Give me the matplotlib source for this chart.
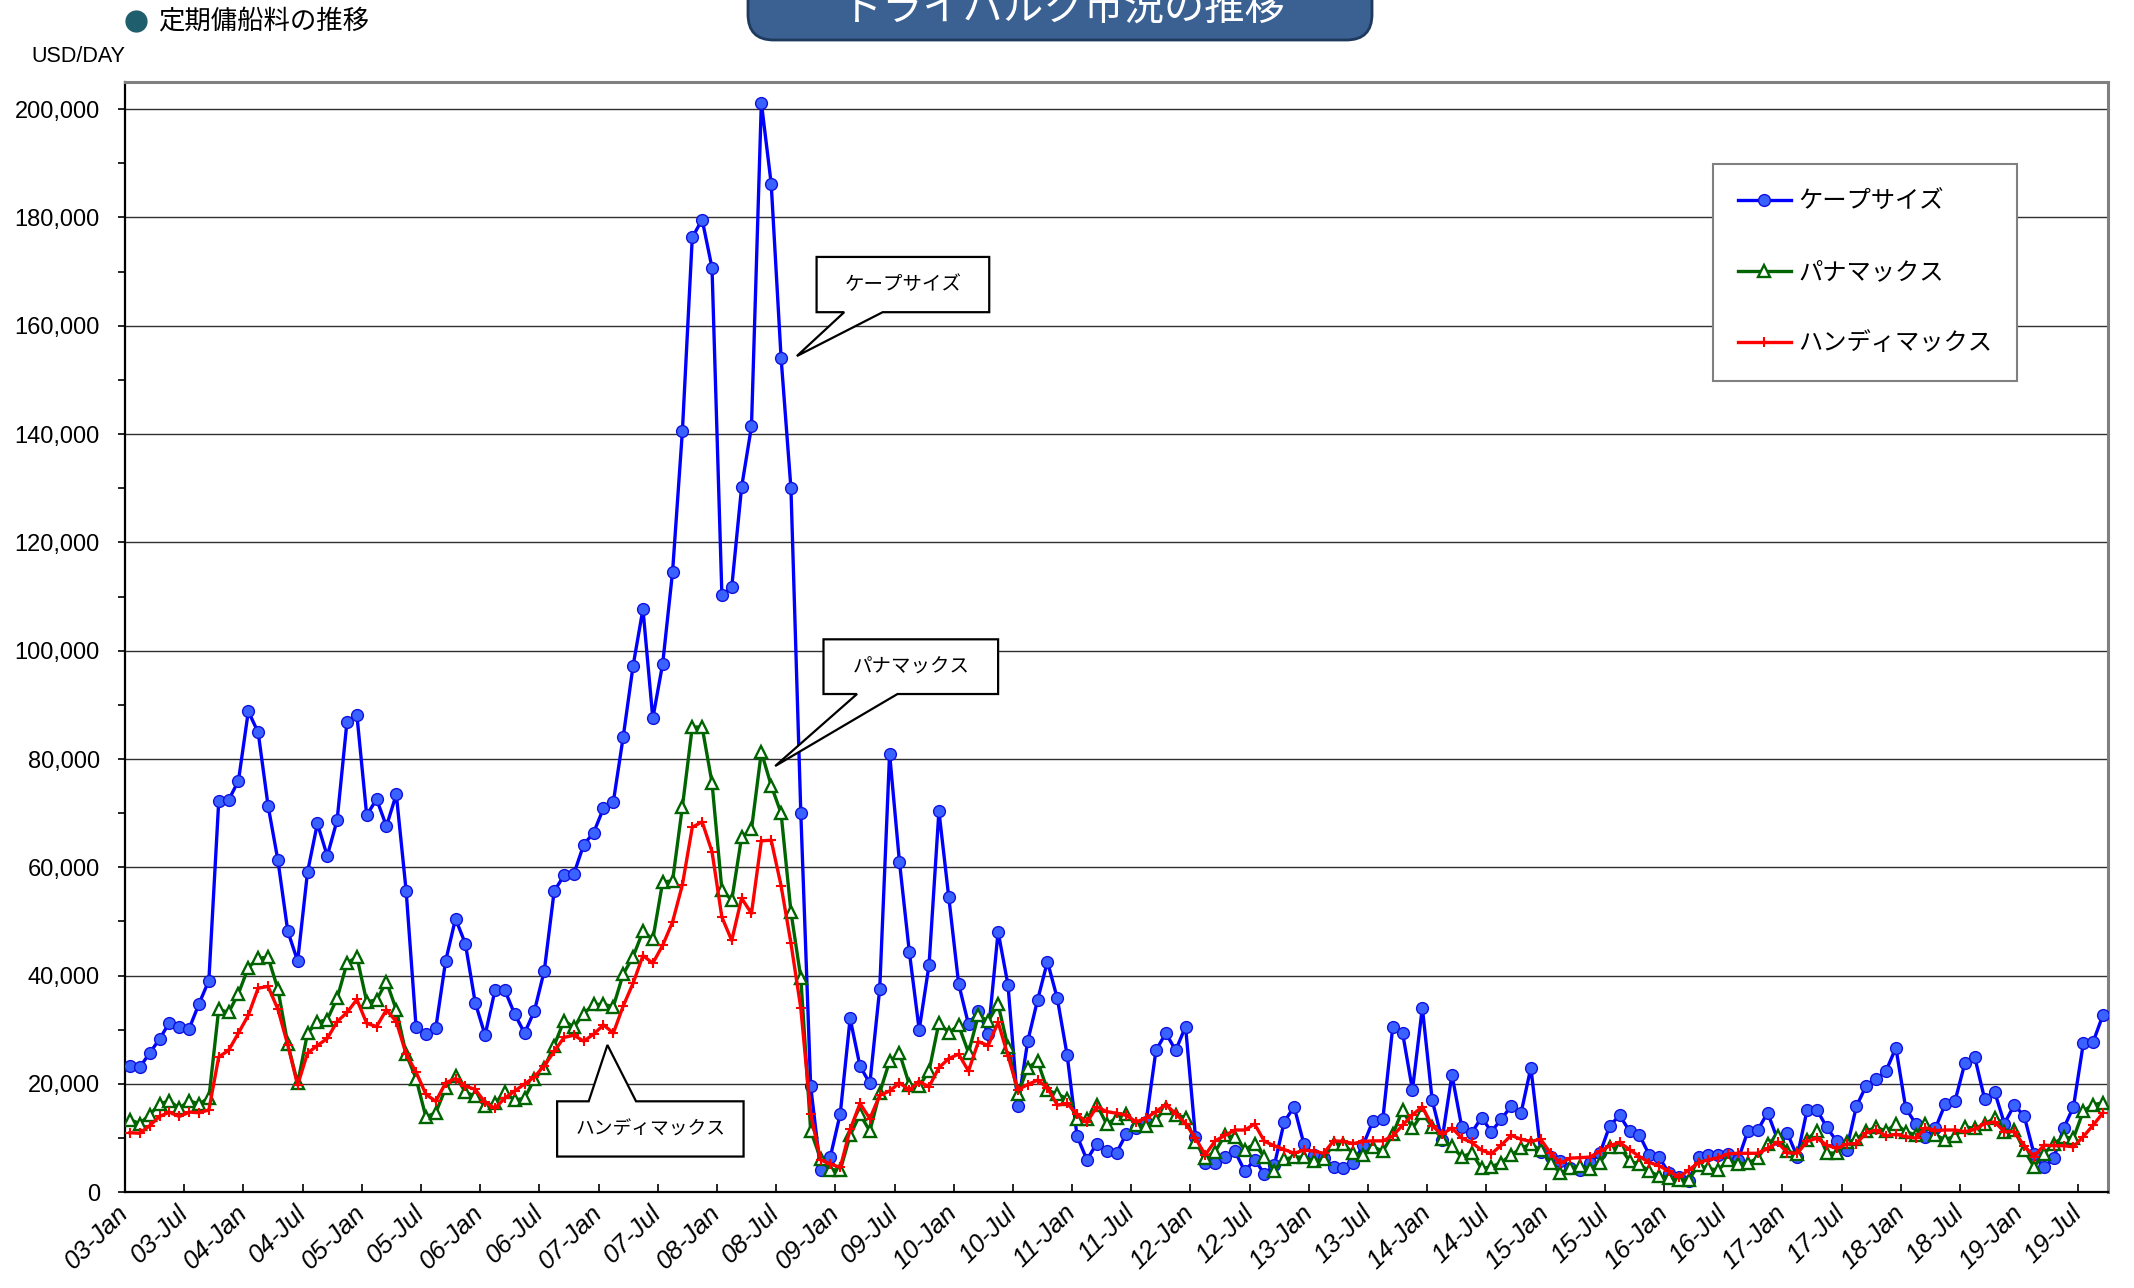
import matplotlib
matplotlib.use("Agg")
import matplotlib.pyplot as plt
from matplotlib.patches import Polygon, FancyBboxPatch
from matplotlib.lines import Line2D
from matplotlib.ticker import MultipleLocator, FuncFormatter
import matplotlib.transforms as mtransforms
import numpy as np

plt.rcParams['font.family'] = ['Liberation Sans', 'Noto Sans CJK JP', 'DejaVu Sans']
JP = ['Noto Sans CJK JP', 'DejaVu Sans']

# monthly time-charter rates, USD/day (thousands), 2003-01 .. 2019-09
cape = [
    23.3, 23.1, 25.7, 28.3, 31.3, 30.6, 30.2, 34.8, 39.1, 72.2, 72.4, 76.0,    # 2003
    88.8, 84.9, 71.4, 61.3, 48.2, 42.7, 59.1, 68.1, 62.1, 68.7, 86.9, 88.2,    # 2004
    69.6, 72.6, 67.6, 73.5, 55.6, 30.6, 29.2, 30.3, 42.7, 50.5, 45.9, 35.0,    # 2005
    29.0, 37.3, 37.3, 32.9, 29.4, 33.5, 40.9, 55.6, 58.5, 58.8, 64.2, 66.4,    # 2006
    70.9, 72.1, 84.1, 97.2, 107.7, 87.5, 97.6, 114.5, 140.6, 176.3, 179.6, 170.7,  # 2007
    110.3, 111.7, 130.2, 141.4, 201.2, 186.2, 154.1, 130.0, 70.1, 19.6, 4.1, 6.6,  # 2008
    14.5, 32.1, 23.3, 20.1, 37.6, 81.0, 61.0, 44.4, 30.0, 42.0, 70.4, 54.5,    # 2009
    38.5, 31.0, 33.4, 29.3, 48.1, 38.3, 15.9, 27.9, 35.5, 42.6, 35.8, 25.3,    # 2010
    10.4, 6.0, 9.0, 7.7, 7.3, 10.8, 11.9, 13.0, 26.2, 29.4, 26.2, 30.6,        # 2011
    10.3, 5.4, 5.4, 6.5, 7.6, 3.9, 6.0, 3.4, 5.0, 13.0, 15.8, 8.9,             # 2012
    6.9, 6.3, 4.7, 4.4, 5.4, 8.7, 13.2, 13.6, 30.5, 29.4, 18.9, 34.1,          # 2013
    17.0, 9.7, 21.7, 12.0, 11.0, 13.8, 11.2, 13.5, 15.9, 14.6, 23.0, 7.5,      # 2014
    6.6, 5.8, 4.4, 4.2, 5.5, 7.2, 12.3, 14.2, 11.3, 10.6, 6.9, 6.5,            # 2015
    3.5, 2.9, 2.1, 6.6, 6.9, 6.9, 7.1, 6.0, 11.3, 11.5, 14.7, 9.8,             # 2016
    10.9, 6.6, 15.2, 15.2, 12.0, 9.4, 7.9, 15.9, 19.7, 20.9, 22.4, 26.7,       # 2017
    15.5, 12.7, 10.3, 11.8, 16.3, 16.9, 23.9, 24.9, 17.2, 18.6, 12.7, 16.1,    # 2018
    14.1, 7.1, 4.6, 6.3, 11.8, 15.8, 27.5, 27.8, 32.8,                         # 2019
]
panamax = [
    13.4, 12.7, 14.3, 16.3, 16.9, 15.5, 16.9, 16.3, 17.4, 33.8, 33.2, 36.7,
    41.5, 43.2, 43.4, 37.5, 27.4, 20.1, 29.4, 31.4, 31.9, 35.8, 42.3, 43.5,
    35.2, 35.5, 38.9, 33.7, 25.5, 21.0, 13.9, 14.7, 19.2, 21.5, 18.5, 17.7,
    16.0, 16.4, 18.5, 17.0, 17.4, 20.9, 23.0, 27.1, 31.7, 30.5, 33.0, 34.7,
    34.7, 34.3, 40.3, 43.5, 48.2, 46.7, 57.3, 57.5, 71.2, 85.9, 85.9, 75.6,
    55.9, 53.9, 65.6, 67.0, 81.3, 75.1, 70.0, 51.8, 39.6, 11.4, 6.2, 4.2,
    4.1, 10.5, 14.4, 11.3, 18.4, 24.2, 25.7, 19.9, 19.6, 22.4, 31.3, 29.5,
    30.8, 25.8, 32.7, 31.6, 34.7, 26.8, 18.1, 23.0, 24.2, 18.9, 18.1, 17.3,
    13.6, 13.5, 16.2, 12.6, 13.7, 14.5, 12.4, 12.3, 13.4, 15.6, 14.3, 13.8,
    9.2, 6.4, 7.5, 10.6, 10.2, 7.9, 8.9, 6.5, 4.0, 6.1, 6.5, 6.5,
    5.7, 6.1, 9.0, 8.9, 7.2, 6.8, 8.4, 7.6, 10.7, 15.2, 11.8, 14.6,
    12.1, 9.9, 8.5, 6.5, 7.3, 4.4, 4.7, 5.5, 6.9, 8.1, 8.9, 7.8,
    5.4, 3.6, 4.4, 4.9, 4.3, 5.4, 8.4, 8.4, 5.8, 5.2, 3.9, 3.0,
    2.7, 2.3, 2.3, 5.0, 4.4, 4.1, 6.0, 5.2, 5.4, 6.3, 9.0, 10.4,
    7.6, 7.1, 9.7, 11.4, 7.3, 7.2, 9.2, 9.8, 11.3, 12.0, 11.3, 12.6,
    11.2, 10.6, 12.6, 10.6, 9.7, 10.4, 12.1, 11.8, 12.6, 13.7, 11.2, 11.5,
    7.8, 4.7, 7.1, 9.0, 10.2, 10.0, 15.0, 16.2, 16.5,
]
handymax = [
    11.0, 10.9, 12.3, 14.0, 14.8, 14.0, 14.8, 14.7, 15.2, 25.0, 26.2, 29.4,
    32.7, 37.7, 38.0, 33.8, 27.2, 19.8, 25.7, 27.1, 28.4, 31.5, 33.2, 35.6,
    31.2, 30.6, 33.7, 31.5, 25.5, 22.2, 18.1, 16.8, 20.2, 21.0, 19.6, 19.0,
    16.6, 15.5, 17.4, 18.7, 20.0, 21.3, 23.4, 26.0, 28.6, 29.0, 27.9, 29.2,
    30.9, 29.4, 34.4, 38.6, 43.7, 42.3, 45.6, 49.9, 56.8, 67.4, 68.4, 62.9,
    50.8, 46.5, 54.3, 51.5, 64.9, 65.0, 56.6, 46.0, 34.0, 14.5, 6.0, 5.2,
    4.6, 11.6, 16.4, 13.6, 17.9, 18.7, 20.2, 18.9, 20.4, 19.5, 23.0, 24.7,
    25.5, 22.4, 27.8, 27.1, 31.4, 25.2, 18.9, 19.9, 20.7, 19.3, 16.1, 16.4,
    14.4, 12.9, 15.8, 14.9, 14.6, 14.2, 13.0, 13.7, 14.9, 16.2, 14.5, 12.7,
    10.0, 6.9, 9.5, 10.5, 11.5, 11.5, 12.6, 9.4, 8.6, 7.9, 7.2, 7.8,
    7.6, 7.2, 9.5, 9.4, 9.0, 9.4, 9.5, 9.5, 10.4, 12.4, 14.3, 15.8,
    12.3, 10.7, 11.9, 10.0, 9.2, 7.8, 7.1, 8.7, 10.5, 9.8, 9.4, 9.8,
    7.2, 5.4, 6.3, 6.4, 6.5, 7.6, 8.6, 9.2, 7.9, 6.6, 5.5, 4.9,
    3.9, 2.8, 4.1, 5.5, 6.0, 6.4, 7.1, 7.2, 7.2, 7.2, 8.1, 9.2,
    7.3, 7.2, 9.4, 10.0, 8.7, 8.1, 8.9, 9.0, 11.0, 11.5, 10.4, 10.7,
    10.3, 10.0, 11.9, 11.4, 11.5, 11.5, 11.2, 11.6, 12.7, 13.0, 11.2, 11.2,
    8.6, 6.6, 8.7, 8.6, 8.6, 8.4, 10.3, 12.4, 14.7,
]
series_names = ['ケープサイズ', 'パナマックス', 'ハンディマックス']
start_year = 2003
tick_labels = [f"{(start_year + i // 2) % 100:02d}-{'Jan' if i % 2 == 0 else 'Jul'}" for i in range(34)]

n = len(cape)
x = np.arange(n) + 0.5
cape_v = np.array(cape) * 1000
pana_v = np.array(panamax) * 1000
handy_v = np.array(handymax) * 1000

W, H = 2134, 1288
fig = plt.figure(figsize=(W / 100, H / 100), dpi=100)
ax = fig.add_axes([125 / W, 1 - 1192.3 / H, 1983 / W, 1110.3 / H])

l1, = ax.plot(x, cape_v, color='#0000ff', lw=2.4, marker='o', ms=8.5,
              mfc='#3a62ff', mec='#1010e0', mew=1.0, zorder=3)
l2, = ax.plot(x, pana_v, color='#006400', lw=2.4, marker='^', ms=8.5,
              mfc='white', mec='#006400', mew=1.7, zorder=3)
l3, = ax.plot(x, handy_v, color='#ff0000', lw=2.4, marker='+', ms=7.5,
              mec='#ff0000', mew=1.5, zorder=3)

ax.set_xlim(0, n)
ax.set_ylim(0, 205000)
ax.yaxis.set_major_locator(MultipleLocator(20000))
ax.yaxis.set_minor_locator(MultipleLocator(10000))
ax.yaxis.set_major_formatter(FuncFormatter(lambda v, p: f"{v:,.0f}"))
ax.yaxis.grid(True, which='major', color='#303030', lw=1.0)
ax.set_axisbelow(True)

ax.set_xticks(np.arange(0, 6 * len(tick_labels), 6))
ax.set_xticklabels(tick_labels, rotation=45, ha='right', va='center',
                   rotation_mode='anchor', fontstyle='italic', fontsize=18.5)
offset = mtransforms.ScaledTranslation(0.11, -0.07, fig.dpi_scale_trans)
for lab in ax.get_xticklabels():
    lab.set_transform(lab.get_transform() + offset)

ax.tick_params(axis='x', direction='in', length=6, width=1.2, pad=12)
ax.tick_params(axis='y', which='major', direction='out', length=5, width=1.2, labelsize=17, pad=13)
ax.tick_params(axis='y', which='minor', direction='out', length=5, width=1.2)

for side in ['left', 'bottom']:
    ax.spines[side].set_color('black')
    ax.spines[side].set_linewidth(1.6)
for side in ['top', 'right']:
    ax.spines[side].set_color('#808080')
    ax.spines[side].set_linewidth(2.2)

leg = ax.legend([l1, l2, l3], series_names, loc='upper left', bbox_to_anchor=(0.801, 0.926),
                borderaxespad=0, prop={'family': JP, 'size': 17.5}, handlelength=2.2,
                handletextpad=0.3, labelspacing=1.85, borderpad=1.0, fancybox=False,
                framealpha=1, edgecolor='#808080')
leg.get_frame().set_linewidth(1.5)


def callout(box, base, tip, text, size):
    x0, x1, y0, y1 = box
    b0, b1 = base
    if tip[1] < y0:
        pts = [(x0, y0), (b0, y0), tip, (b1, y0), (x1, y0), (x1, y1), (x0, y1)]
    else:
        pts = [(x0, y1), (b0, y1), tip, (b1, y1), (x1, y1), (x1, y0), (x0, y0)]
    ax.add_patch(Polygon(pts, closed=True, fc='white', ec='black', lw=1.6,
                         clip_on=False, zorder=5))
    ax.text((x0 + x1) / 2, (y0 + y1) / 2, text, ha='center', va='center',
            family=JP, fontsize=size, zorder=6)


callout((70.1, 87.6, 162500, 172700), (72.9, 76.8), (68.1, 154400), 'ケープサイズ', 14)
callout((70.8, 88.5, 92000, 102100), (74.2, 78.3), (65.9, 78700), 'パナマックス', 14)
callout((43.8, 62.7, 6600, 16800), (47.0, 51.8), (48.9, 27200), 'ハンディマックス', 13.5)

# header items above the plot
fig.add_artist(Line2D([136 / W], [1 - 21 / H], marker='o', ms=15, color='#1f5e6c',
                      transform=fig.transFigure))
fig.text(158 / W, 1 - 21 / H, '定期傭船料の推移', family=JP, fontsize=19,
         ha='left', va='center')
fig.text(31 / W, 1 - 57 / H, 'USD/DAY', fontsize=15.5, ha='left', va='center')

title_box = FancyBboxPatch((748 / W, 1 - 40 / H), 624 / W, 80 / H,
                           boxstyle='round,pad=0,rounding_size=0.012',
                           transform=fig.transFigure, fc='#3a6192', ec='#1e3a5f',
                           lw=2, mutation_aspect=W / H)
fig.add_artist(title_box)
fig.text(1063 / W, 1 - 8 / H, 'ドライバルク市況の推移', family=JP, fontsize=29,
         color='white', ha='center', va='center')

fig.savefig('out.png', dpi=100)
